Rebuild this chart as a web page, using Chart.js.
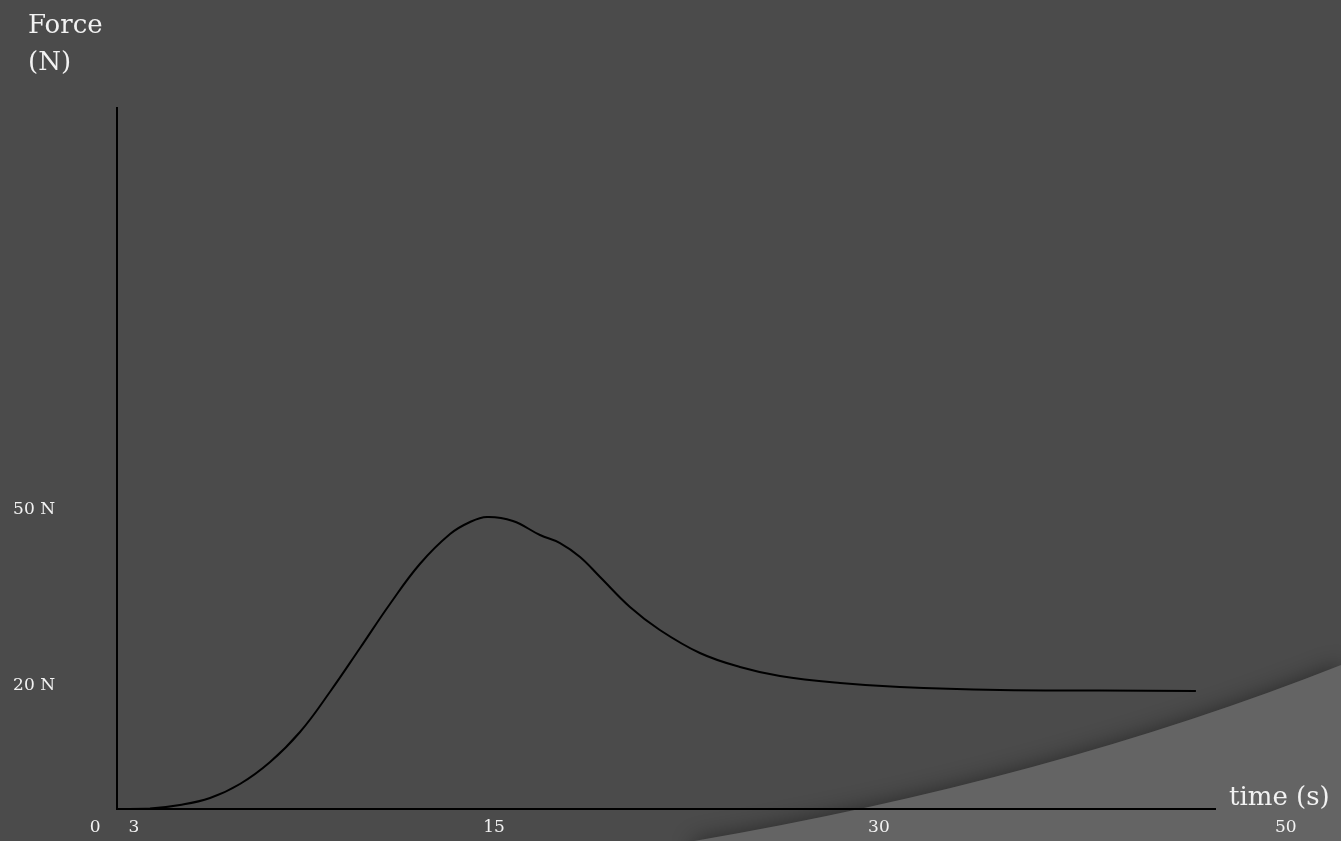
<!DOCTYPE html>
<html lang="en">
  <head>
    <meta charset="UTF-8" />
    <title>Force / time</title>
    <script src="https://cdn.jsdelivr.net/npm/chart.js"></script>
    <style>
      body {
        margin: 0;
        background: #4b4b4b;
        overflow: hidden;
      }
    </style>
  </head>
  <body>
    <canvas id="graficoForca" width="1341" height="841"></canvas>
  </body>
</html>
<script>
  // valores (o desenho nao esta em escala)
  var tempo = [3.0, 4.07, 5.04, 6.02, 6.99, 7.97, 8.94, 9.91, 10.89, 11.86, 12.83, 13.81,
    14.46, 15.01, 15.85, 16.73, 17.38, 18.03, 18.68, 19.65, 20.62, 21.92, 23.22, 24.52,
    26.47, 28.41, 31.66, 34.9, 38.02];
  var forca = [0, 0.09, 0.68, 1.88, 4.28, 8.05, 13.18, 20.03, 27.56, 35.09, 41.94, 47.07,
    49.13, 49.98, 49.3, 46.9, 45.53, 43.14, 39.71, 34.58, 30.64, 26.7, 24.31, 22.77,
    21.57, 20.88, 20.37, 20.28, 20.2];

  // posicoes dos rotulos dos eixos e seus textos
  var xTickAt = [2.29, 3.55, 15.24, 27.73, 40.94];
  var xTickText = ["0", "3", "15", "30", "50"];
  var yTickAt = [21.2, 51.2];
  var yTickText = ["20 N", "50 N"];

  var corTexto = "#f2f2f2";
  var fonte = "DejaVu Serif";

  // fundo cinza com a faixa clara curva no canto inferior direito
  var fundo = {
    id: "fundo",
    beforeDraw: function (chart) {
      var ctx = chart.ctx;
      var w = chart.width, h = chart.height;
      ctx.save();
      ctx.fillStyle = "#4b4b4b";
      ctx.fillRect(0, 0, w, h);
      ctx.shadowColor = "rgba(0, 0, 0, 0.45)";
      ctx.shadowBlur = 22;
      ctx.fillStyle = "#646464";
      ctx.beginPath();
      ctx.moveTo(694, h);
      ctx.quadraticCurveTo(1050, 780, w, 665);
      ctx.lineTo(w + 40, h + 40);
      ctx.lineTo(694, h + 40);
      ctx.closePath();
      ctx.fill();
      ctx.restore();
    },
    // titulos dos eixos: "Force (N)" em cima, "time (s)" na ponta do eixo x
    afterDraw: function (chart) {
      var ctx = chart.ctx;
      var x = chart.scales.x;
      ctx.save();
      ctx.fillStyle = corTexto;
      ctx.font = "26px '" + fonte + "'";
      ctx.textBaseline = "alphabetic";
      ctx.fillText("Force", 28, 33);
      ctx.fillText("(N)", 28, 70);
      ctx.textBaseline = "middle";
      ctx.fillText("time (s)", x.right + 14, x.top - 11);
      ctx.restore();
    },
  };

  var pontos = [];
  for (var i = 0; i < tempo.length; i++) {
    pontos.push({ x: tempo[i], y: forca[i] });
  }

  var config = {
    type: "line",
    data: {
      datasets: [
        {
          label: "Force",
          data: pontos,
          borderColor: "#000000",
          borderWidth: 2,
          pointRadius: 0,
          fill: false,
          tension: 0.4,
        },
      ],
    },
    options: {
      responsive: false,
      animation: false,
      layout: {
        padding: { left: 0, right: 126, top: 108, bottom: 0 },
      },
      plugins: {
        legend: { display: false },
        tooltip: { enabled: false },
      },
      scales: {
        x: {
          type: "linear",
          min: 3,
          max: 38.64,
          grid: { display: false, drawTicks: false },
          border: { display: true, color: "#000000", width: 2 },
          afterBuildTicks: function (scale) {
            scale.ticks = xTickAt.map(function (v) {
              return { value: v };
            });
          },
          afterFit: function (scale) {
            scale.height = 32;
            scale.paddingLeft = 0;
            scale.paddingRight = 0;
          },
          ticks: {
            autoSkip: false,
            maxRotation: 0,
            padding: 8,
            color: corTexto,
            font: { family: fonte, size: 17 },
            callback: function (value, index) {
              return xTickText[index];
            },
          },
        },
        y: {
          type: "linear",
          min: 0,
          max: 120,
          grid: { display: false, drawTicks: false },
          border: { display: true, color: "#000000", width: 2 },
          afterBuildTicks: function (scale) {
            scale.ticks = yTickAt.map(function (v) {
              return { value: v };
            });
          },
          afterFit: function (scale) {
            scale.width = 117;
            scale.paddingTop = 0;
            scale.paddingBottom = 0;
          },
          ticks: {
            autoSkip: false,
            padding: 62,
            color: corTexto,
            font: { family: fonte, size: 17 },
            callback: function (value, index) {
              return yTickText[index];
            },
          },
        },
      },
    },
    plugins: [fundo],
  };

  var grafico = new Chart(document.getElementById("graficoForca"), config);
</script>
